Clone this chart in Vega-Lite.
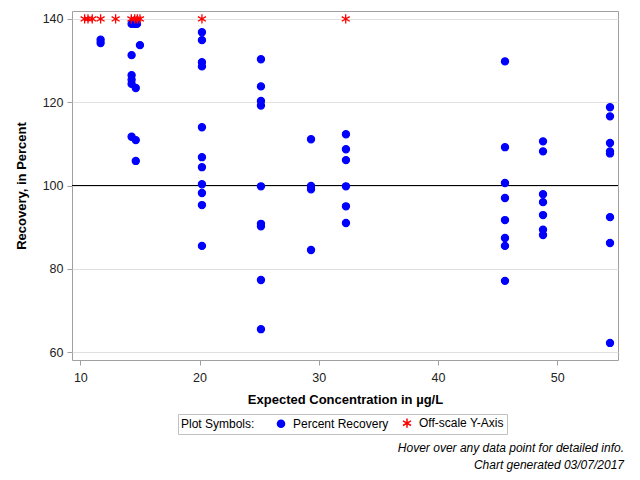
{
  "$schema": "https://vega.github.io/schema/vega-lite/v6.json",
  "width": 546,
  "height": 349,
  "autosize": {"type": "none"},
  "padding": {"left": 72, "top": 11, "right": 22, "bottom": 120},
  "background": "white",
  "config": {
    "font": "Liberation Sans",
    "view": {"stroke": "#a0a0a0", "strokeWidth": 1},
    "axis": {
      "domain": false,
      "tickColor": "#a0a0a0",
      "tickSize": 5,
      "labelFont": "Liberation Sans",
      "labelFontSize": 12.5,
      "labelColor": "#222222",
      "titleFont": "Liberation Sans",
      "titleFontSize": 13,
      "titleFontWeight": "bold",
      "titleColor": "#000000"
    }
  },
  "title": {
    "text": ["Hover over any data point for detailed info.", "Chart generated 03/07/2017"],
    "orient": "bottom",
    "anchor": "end",
    "frame": "group",
    "fontStyle": "italic",
    "fontWeight": "normal",
    "fontSize": 12,
    "lineHeight": 17,
    "color": "#000000",
    "offset": 8,
    "dx": 6
  },
  "datasets": {
    "pts": [
      {"x": 11.7, "y": 135.0, "series": "Percent Recovery"},
      {"x": 11.7, "y": 134.2, "series": "Percent Recovery"},
      {"x": 14.3, "y": 138.8, "series": "Percent Recovery"},
      {"x": 14.55, "y": 138.8, "series": "Percent Recovery"},
      {"x": 14.75, "y": 138.8, "series": "Percent Recovery"},
      {"x": 15.0, "y": 133.7, "series": "Percent Recovery"},
      {"x": 14.3, "y": 131.3, "series": "Percent Recovery"},
      {"x": 14.3, "y": 126.5, "series": "Percent Recovery"},
      {"x": 14.3, "y": 125.4, "series": "Percent Recovery"},
      {"x": 14.3, "y": 124.4, "series": "Percent Recovery"},
      {"x": 14.3, "y": 111.7, "series": "Percent Recovery"},
      {"x": 14.65, "y": 123.4, "series": "Percent Recovery"},
      {"x": 14.65, "y": 110.9, "series": "Percent Recovery"},
      {"x": 14.65, "y": 105.9, "series": "Percent Recovery"},
      {"x": 20.2, "y": 136.8, "series": "Percent Recovery"},
      {"x": 20.2, "y": 134.9, "series": "Percent Recovery"},
      {"x": 20.2, "y": 129.6, "series": "Percent Recovery"},
      {"x": 20.2, "y": 128.6, "series": "Percent Recovery"},
      {"x": 20.2, "y": 114.0, "series": "Percent Recovery"},
      {"x": 20.2, "y": 106.8, "series": "Percent Recovery"},
      {"x": 20.2, "y": 104.4, "series": "Percent Recovery"},
      {"x": 20.2, "y": 100.3, "series": "Percent Recovery"},
      {"x": 20.2, "y": 98.2, "series": "Percent Recovery"},
      {"x": 20.2, "y": 95.3, "series": "Percent Recovery"},
      {"x": 20.2, "y": 85.5, "series": "Percent Recovery"},
      {"x": 25.15, "y": 130.3, "series": "Percent Recovery"},
      {"x": 25.15, "y": 123.8, "series": "Percent Recovery"},
      {"x": 25.15, "y": 120.3, "series": "Percent Recovery"},
      {"x": 25.15, "y": 119.2, "series": "Percent Recovery"},
      {"x": 25.15, "y": 99.8, "series": "Percent Recovery"},
      {"x": 25.15, "y": 90.8, "series": "Percent Recovery"},
      {"x": 25.15, "y": 90.2, "series": "Percent Recovery"},
      {"x": 25.15, "y": 77.3, "series": "Percent Recovery"},
      {"x": 25.15, "y": 65.5, "series": "Percent Recovery"},
      {"x": 29.35, "y": 111.1, "series": "Percent Recovery"},
      {"x": 29.35, "y": 99.9, "series": "Percent Recovery"},
      {"x": 29.35, "y": 99.1, "series": "Percent Recovery"},
      {"x": 29.35, "y": 84.5, "series": "Percent Recovery"},
      {"x": 32.28, "y": 112.3, "series": "Percent Recovery"},
      {"x": 32.28, "y": 108.7, "series": "Percent Recovery"},
      {"x": 32.28, "y": 106.1, "series": "Percent Recovery"},
      {"x": 32.28, "y": 99.8, "series": "Percent Recovery"},
      {"x": 32.28, "y": 95.0, "series": "Percent Recovery"},
      {"x": 32.28, "y": 91.0, "series": "Percent Recovery"},
      {"x": 45.62, "y": 129.8, "series": "Percent Recovery"},
      {"x": 45.62, "y": 109.2, "series": "Percent Recovery"},
      {"x": 45.62, "y": 100.6, "series": "Percent Recovery"},
      {"x": 45.62, "y": 97.0, "series": "Percent Recovery"},
      {"x": 45.62, "y": 91.7, "series": "Percent Recovery"},
      {"x": 45.62, "y": 87.4, "series": "Percent Recovery"},
      {"x": 45.62, "y": 85.5, "series": "Percent Recovery"},
      {"x": 45.62, "y": 77.1, "series": "Percent Recovery"},
      {"x": 48.81, "y": 110.6, "series": "Percent Recovery"},
      {"x": 48.81, "y": 108.2, "series": "Percent Recovery"},
      {"x": 48.81, "y": 97.9, "series": "Percent Recovery"},
      {"x": 48.81, "y": 96.0, "series": "Percent Recovery"},
      {"x": 48.81, "y": 92.9, "series": "Percent Recovery"},
      {"x": 48.81, "y": 89.4, "series": "Percent Recovery"},
      {"x": 48.81, "y": 88.1, "series": "Percent Recovery"},
      {"x": 54.43, "y": 118.8, "series": "Percent Recovery"},
      {"x": 54.43, "y": 116.6, "series": "Percent Recovery"},
      {"x": 54.43, "y": 110.2, "series": "Percent Recovery"},
      {"x": 54.43, "y": 108.2, "series": "Percent Recovery"},
      {"x": 54.43, "y": 107.7, "series": "Percent Recovery"},
      {"x": 54.43, "y": 92.4, "series": "Percent Recovery"},
      {"x": 54.43, "y": 86.2, "series": "Percent Recovery"},
      {"x": 54.43, "y": 62.2, "series": "Percent Recovery"},
      {"x": 10.36, "y": 140, "series": "Off-scale Y-Axis"},
      {"x": 10.64, "y": 140, "series": "Off-scale Y-Axis"},
      {"x": 11.0, "y": 140, "series": "Off-scale Y-Axis"},
      {"x": 11.7, "y": 140, "series": "Off-scale Y-Axis"},
      {"x": 12.96, "y": 140, "series": "Off-scale Y-Axis"},
      {"x": 14.28, "y": 140, "series": "Off-scale Y-Axis"},
      {"x": 14.56, "y": 140, "series": "Off-scale Y-Axis"},
      {"x": 14.78, "y": 140, "series": "Off-scale Y-Axis"},
      {"x": 15.0, "y": 140, "series": "Off-scale Y-Axis"},
      {"x": 20.2, "y": 140, "series": "Off-scale Y-Axis"},
      {"x": 32.26, "y": 140, "series": "Off-scale Y-Axis"}
    ],
    "ref": [{"y": 100}]
  },
  "layer": [
    {
      "data": {"name": "ref"},
      "mark": {"type": "rule", "color": "#000000", "strokeWidth": 1},
      "encoding": {
        "y": {"field": "y", "type": "quantitative", "scale": {"domain": [58.1, 141.9], "nice": false, "zero": false}}
      }
    },
    {
      "data": {"name": "pts"},
      "mark": {"type": "point", "filled": true, "strokeWidth": 1.3, "opacity": 1},
      "encoding": {
        "x": {
          "field": "x", "type": "quantitative",
          "scale": {"domain": [9.3, 55.1], "nice": false, "zero": false},
          "axis": {"title": "Expected Concentration in µg/L", "values": [10, 20, 30, 40, 50], "grid": false, "labelPadding": 6, "titlePadding": 10}
        },
        "y": {
          "field": "y", "type": "quantitative",
          "scale": {"domain": [58.1, 141.9], "nice": false, "zero": false},
          "axis": {"title": "Recovery, in Percent", "values": [60, 80, 100, 120, 140], "grid": true, "gridColor": "#e0e0e0", "labelPadding": 4, "titlePadding": 14}
        },
        "color": {
          "field": "series", "type": "nominal",
          "scale": {"domain": ["Percent Recovery", "Off-scale Y-Axis"], "range": ["#0000ff", "#ff0000"]},
          "legend": {
            "title": "Plot Symbols:",
            "orient": "none",
            "legendX": 106,
            "legendY": 403,
            "direction": "horizontal",
            "titleOrient": "left",
            "titleFontWeight": "normal",
            "titleFontSize": 12,
            "titleColor": "#000000",
            "titlePadding": 20,
            "labelFontSize": 12,
            "labelColor": "#000000",
            "labelOffset": 6,
            "columnPadding": 10,
            "strokeColor": "#c0c0c0",
            "padding": 3,
            "symbolSize": 50
          }
        },
        "stroke": {
          "field": "series", "type": "nominal",
          "scale": {"domain": ["Percent Recovery", "Off-scale Y-Axis"], "range": ["#0000ff", "#ff0000"]},
          "legend": null
        },
        "size": {
          "field": "series", "type": "nominal",
          "scale": {"domain": ["Percent Recovery", "Off-scale Y-Axis"], "range": [50, 85]},
          "legend": null
        },
        "shape": {
          "field": "series", "type": "nominal",
          "scale": {"domain": ["Percent Recovery", "Off-scale Y-Axis"], "range": ["circle", "M0,-1L0,1M-0.87,-0.5L0.87,0.5M-0.87,0.5L0.87,-0.5"]},
          "legend": null
        }
      }
    }
  ]
}
